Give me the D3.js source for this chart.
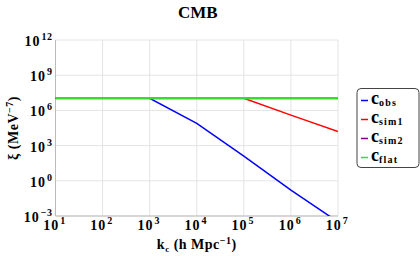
<!DOCTYPE html>
<html>
<head>
<meta charset="utf-8">
<script src="https://cdn.jsdelivr.net/npm/d3@7"></script>
<style>
  body { margin: 0; background: #fff; }
</style>
</head>
<body>
<svg id="chart"></svg>
<script>
// k_c values (h Mpc^-1)
const kc = [1e1, 1e2, 1e3, 1e4, 1e5, 1e6, 1e7];
// log10 of xi (MeV^-7)
const cObs = [7.03, 7.03, 7.03, 4.9, 2.1, -0.8, -3.5];
const cSim1 = [7.03, 7.03, 7.03, 7.03, 7.03, 5.6, 4.2];
const cSim2 = [7.03, 7.03, 7.03, 7.03, 7.03, 7.03, 7.03];
const cFlat = [7.03, 7.03, 7.03, 7.03, 7.03, 7.03, 7.03];

const xTicks = [1, 2, 3, 4, 5, 6, 7];
const yTicks = [-3, 0, 3, 6, 9, 12];

const series = [
  { key: 'obs', sub: 'obs', values: cObs, color: '#0000ff', width: 1.5 },
  { key: 'sim1', sub: 'sim1', values: cSim1, color: '#ff0000', width: 1.5 },
  { key: 'sim2', sub: 'sim2', values: cSim2, color: '#800080', width: 1.5 },
  { key: 'flat', sub: 'flat', values: cFlat, color: '#33dd33', width: 2.5 }
];

const W = 420, H = 256;
const margin = { top: 40, right: 82, bottom: 40, left: 55.5 };
const width = W - margin.left - margin.right;
const height = H - margin.top - margin.bottom;
const FONT = '"Liberation Serif", "Times New Roman", Times, serif';

const svg = d3.select('#chart').attr('width', W).attr('height', H)
  .attr('font-family', FONT).attr('font-weight', 'bold');

const x = d3.scaleLog().domain([1e1, 1e7]).range([0, width]);
const y = d3.scaleLog().domain([1e-3, 1e12]).range([height, 0]);

const g = svg.append('g').attr('transform', `translate(${margin.left},${margin.top})`);

// gridlines
g.append('g').selectAll('line').data(xTicks).join('line')
  .attr('x1', d => x(10 ** d)).attr('x2', d => x(10 ** d))
  .attr('y1', 0).attr('y2', height)
  .attr('stroke', '#e4e4e4').attr('stroke-width', 1);
g.append('g').selectAll('line').data(yTicks).join('line')
  .attr('y1', d => y(10 ** d)).attr('y2', d => y(10 ** d))
  .attr('x1', 0).attr('x2', width)
  .attr('stroke', '#e4e4e4').attr('stroke-width', 1);

// axis lines
g.append('line').attr('x1', 0).attr('x2', 0).attr('y1', 0).attr('y2', height)
  .attr('stroke', '#bbb');
g.append('line').attr('x1', 0).attr('x2', width).attr('y1', height).attr('y2', height)
  .attr('stroke', '#bbb');

// tick labels
function powLabel(sel, exp) {
  sel.append('tspan').attr('font-size', 14).attr('letter-spacing', 1).text('10');
  sel.append('tspan').attr('font-size', 10).attr('dy', -6).attr('dx', 1)
    .attr('letter-spacing', 0.5).text(exp < 0 ? '\u2212' + (-exp) : exp);
}
g.append('g').selectAll('text').data(yTicks).join('text')
  .attr('x', -3).attr('y', d => y(10 ** d) + 6)
  .attr('text-anchor', 'end')
  .each(function (d) { powLabel(d3.select(this), d); });
g.append('g').selectAll('text').data(xTicks).join('text')
  .attr('x', d => x(10 ** d) - 1).attr('y', height + 14)
  .attr('text-anchor', 'middle')
  .each(function (d) { powLabel(d3.select(this), d); });

// lines
svg.append('clipPath').attr('id', 'clip').append('rect')
  .attr('width', width).attr('height', height);
const line = d3.line()
  .x((d, i) => x(kc[i]))
  .y(d => y(10 ** d));
g.append('g').attr('clip-path', 'url(#clip)')
  .selectAll('path').data(series).join('path')
  .attr('fill', 'none')
  .attr('stroke', d => d.color)
  .attr('stroke-width', d => d.width)
  .attr('d', d => line(d.values));

// title
svg.append('text').attr('x', margin.left + width / 2 + 1).attr('y', 18)
  .attr('text-anchor', 'middle').attr('font-size', 17).text('CMB');

// x label
const xl = svg.append('text').attr('x', margin.left + width / 2).attr('y', 249)
  .attr('text-anchor', 'middle').attr('font-size', 14).attr('letter-spacing', 0.5);
xl.append('tspan').text('k');
xl.append('tspan').attr('font-size', 9).attr('dy', 3).text('c');
xl.append('tspan').attr('dy', -3).text(' (h  Mpc');
xl.append('tspan').attr('font-size', 10).attr('dy', -5).text('\u22121');
xl.append('tspan').attr('dy', 5).text(')');

// y label
const yl = svg.append('text')
  .attr('transform', `translate(18,${margin.top + height / 2}) rotate(-90)`)
  .attr('text-anchor', 'middle').attr('font-size', 14).attr('letter-spacing', 0.5);
yl.append('tspan').text('\u03be  (MeV');
yl.append('tspan').attr('font-size', 10).attr('dy', -5).text('\u22127');
yl.append('tspan').attr('dy', 5).text(')');

// legend
const lg = svg.append('g').attr('transform', 'translate(357,88.5)');
lg.append('rect').attr('width', 62).attr('height', 79).attr('rx', 4)
  .attr('fill', '#fff').attr('stroke', '#444').attr('stroke-width', 1);
const items = lg.selectAll('g').data(series).join('g')
  .attr('transform', (d, i) => `translate(0,${12 + i * 19})`);
items.append('line').attr('x1', 4).attr('x2', 11).attr('y1', 0).attr('y2', 0)
  .attr('stroke', d => d.color).attr('stroke-width', 1.5);
const lt = items.append('text').attr('x', 14).attr('y', 3).attr('font-size', 18);
lt.append('tspan').text('c');
lt.append('tspan').attr('font-size', 10).attr('dy', 2).attr('letter-spacing', 1.2).text(d => d.sub);
</script>
</body>
</html>
